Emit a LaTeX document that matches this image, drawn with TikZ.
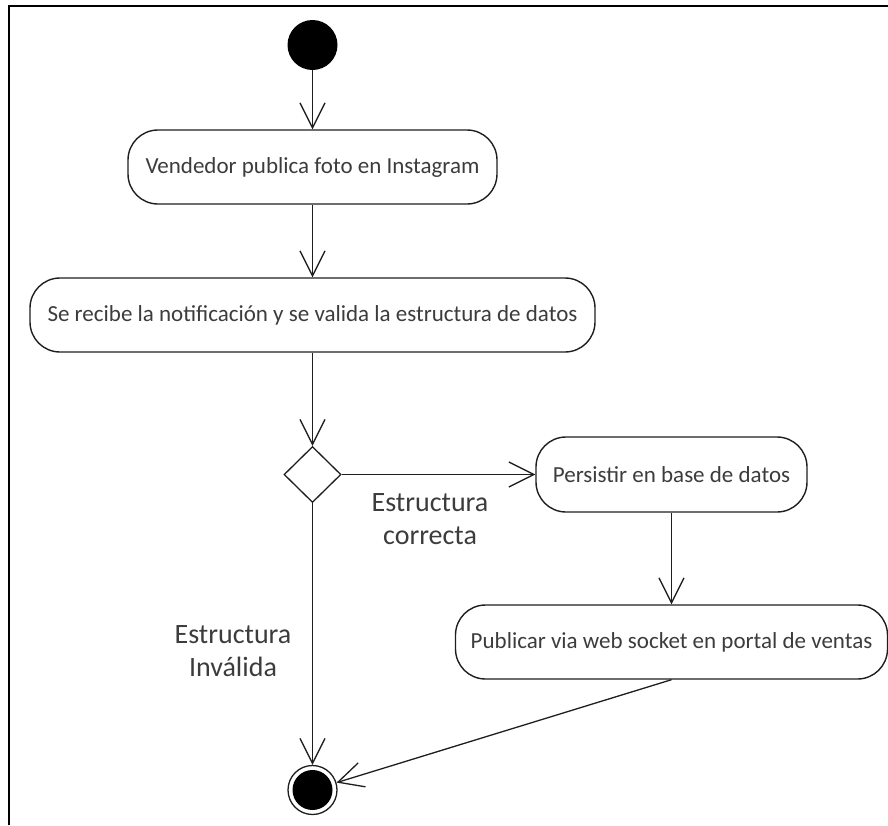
\documentclass[tikz,border=0pt]{standalone}
\usepackage{fontspec}
\setmainfont{Carlito}
\usetikzlibrary{arrows.meta,shapes.geometric}
\definecolor{dgLine}{HTML}{1E1E1E}
\definecolor{dgText}{HTML}{3C3C3C}

\begin{document}
\begin{tikzpicture}[x=1pt,y=-1pt,
  act/.style={draw=dgLine,line width=1.4pt,rounded corners=30pt,minimum height=74pt,inner sep=0pt,text=dgText,font=\fontsize{23}{27}\selectfont},
  flow/.style={draw=dgLine,line width=1.3pt,-{Straight Barb[length=25pt,width=25pt]}},
  guard/.style={text=dgText,align=center,font=\fontsize{28}{33}\selectfont}]
\useasboundingbox (0,0) rectangle (888,825);
\draw[line width=2pt] (9,825) -- (9,6) -- (888,6);
% start / end
\node[circle,fill=black,minimum size=50pt,inner sep=0pt] (ini) at (312.5,45) {};
\node[circle,draw=dgLine,line width=1.3pt,minimum size=49pt,inner sep=0pt,
  path picture={\fill[black] (path picture bounding box.center) circle (20pt);}] (fin) at (312.5,790) {};
% actions
\node[act,minimum width=369pt] (pub) at (312.5,167) {Vendedor publica foto en Instagram};
\node[act,minimum width=565pt] (val) at (312.5,315) {Se recibe la notificación y se valida la estructura de datos};
\node[diamond,draw=dgLine,line width=1.3pt,minimum width=57pt,minimum height=56pt,inner sep=0pt] (dec) at (312.5,474.5) {};
\node[act,minimum width=271pt,minimum height=75pt] (per) at (671.5,474.5) {Persistir en base de datos};
\node[act,minimum width=432pt] (web) at (671.5,642) {Publicar via web socket en portal de ventas};
% guards
\node[guard] (okL) at (430,519) {Estructura\\correcta};
\node[guard] (badL) at (233,651) {Estructura\\Inválida};
% flows
\draw[flow] (ini) -- (pub);
\draw[flow] (pub) -- (val);
\draw[flow] (val) -- (dec);
\draw[flow] (dec) -- (per);
\draw[flow] (per) -- (web);
\draw[flow] (dec) -- (fin);
\draw[flow] (web.south) -- (fin);
\end{tikzpicture}
\end{document}
